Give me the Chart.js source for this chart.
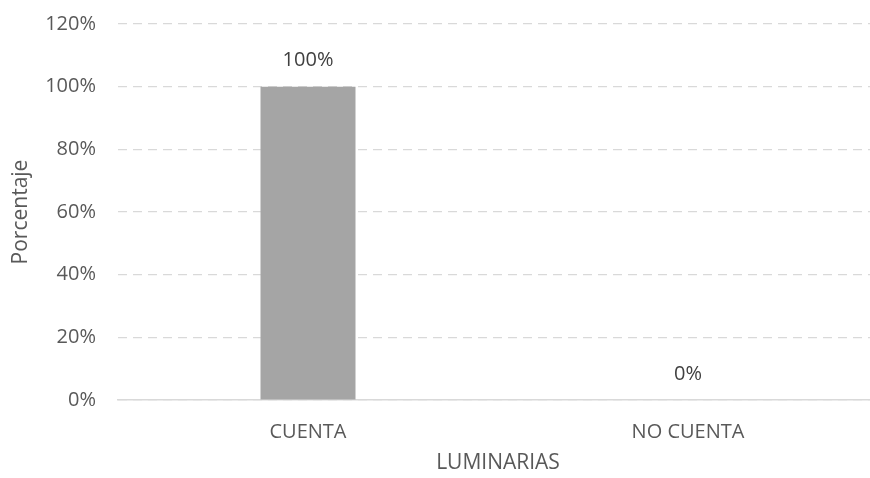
<!DOCTYPE html>
<html>
<head>
<meta charset="utf-8">
<script src="https://cdn.jsdelivr.net/npm/chart.js@4.4.0/dist/chart.umd.min.js"></script>
<style>
    html, body { margin: 0; padding: 0; background: #fff; overflow: hidden; }
    #wrap { width: 870px; height: 478px; overflow: hidden; }
</style>
</head>
<body>
<div id="wrap"><canvas id="chart" width="878" height="478"></canvas></div>
<script>
// datos de la gráfica
const categories = ['CUENTA', 'NO CUENTA'];
const values = [100, 0];
const tickValues = [0, 20, 40, 60, 80, 100, 120];

const fontFamily = '"Open Sans", "Noto Sans", sans-serif';
const textColor = '#595959';

// etiquetas de valor encima de cada barra
const valueLabels = {
    id: 'valueLabels',
    afterDatasetsDraw(chart) {
        const ctx = chart.ctx;
        const meta = chart.getDatasetMeta(0);
        ctx.save();
        ctx.font = '20px ' + fontFamily;
        ctx.fillStyle = '#404040';
        ctx.textAlign = 'center';
        ctx.textBaseline = 'middle';
        meta.data.forEach((bar, i) => {
            ctx.fillText(values[i] + '%', bar.x, bar.y - 26);
        });
        ctx.restore();
    }
};

new Chart(document.getElementById('chart'), {
    type: 'bar',
    data: {
        labels: categories,
        datasets: [{
            data: values,
            backgroundColor: '#a5a5a5',
            categoryPercentage: 1,
            barPercentage: 0.25
        }]
    },
    options: {
        responsive: false,
        animation: false,
        layout: { padding: { top: 24, right: 0, left: 4, bottom: 2 } },
        plugins: {
            legend: { display: false },
            tooltip: { enabled: false }
        },
        scales: {
            x: {
                afterFit(scale) {
                    scale.height = 76;
                    scale.paddingLeft = 0;
                    scale.paddingRight = 0;
                },
                grid: { display: false, drawTicks: false },
                border: { color: '#d9d9d9', width: 1.5 },
                ticks: { color: textColor, font: { family: fontFamily, size: 20 }, padding: 20 },
                title: {
                    display: true,
                    text: 'LUMINARIAS',
                    color: textColor,
                    font: { family: fontFamily, size: 21 },
                    padding: { top: 2, bottom: 0 }
                }
            },
            y: {
                min: 0,
                max: 120,
                afterBuildTicks(scale) {
                    scale.ticks = tickValues.map(v => ({ value: v }));
                },
                afterFit(scale) {
                    scale.width = 114;
                    scale.paddingTop = 0;
                    scale.paddingBottom = 0;
                },
                grid: { color: '#d9d9d9', lineWidth: 1.2, drawTicks: false },
                border: { display: false, dash: [9, 6] },
                ticks: {
                    color: textColor,
                    font: { family: fontFamily, size: 20 },
                    padding: 22,
                    callback: v => v + '%'
                },
                title: {
                    display: true,
                    text: 'Porcentaje',
                    color: textColor,
                    font: { family: fontFamily, size: 21 },
                    padding: { top: 4, bottom: 12 }
                }
            }
        }
    },
    plugins: [valueLabels]
});
</script>
</body>
</html>
